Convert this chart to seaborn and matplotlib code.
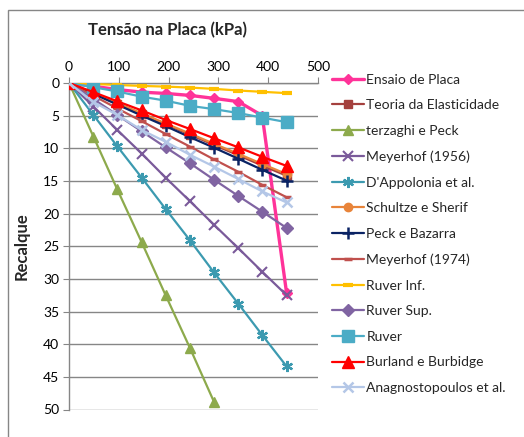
import matplotlib
matplotlib.use("Agg")
import matplotlib.pyplot as plt
from matplotlib.patches import Rectangle
import seaborn as sns

# loads applied on the plate (kPa)
loads = [0, 49, 97, 146, 194, 243, 291, 340, 388, 437]

# settlement (recalque) per method
ensaio_placa = [0, 0.5, 1.0, 1.4, 1.6, 1.9, 2.35, 2.85, 5.0, 32.2]
teoria_elasticidade = [0, 1.58, 3.16, 4.74, 6.32, 7.9, 9.48, 11.06, 12.64, 14.2]
terzaghi_peck = [0, 8.2, 16.3, 24.4, 32.5, 40.6, 48.8]
meyerhof_1956 = [0, 3.6, 7.2, 10.8, 14.5, 18.1, 21.7, 25.3, 28.9, 32.5]
dappolonia = [0, 4.9, 9.7, 14.5, 19.3, 24.1, 29.0, 33.8, 38.6, 43.4]
schultze_sherif = [0, 1.55, 3.1, 4.65, 6.2, 7.75, 9.3, 10.85, 12.4, 13.95]
peck_bazarra = [0, 1.66, 3.3, 5.0, 6.6, 8.3, 9.9, 11.6, 13.3, 14.95]
meyerhof_1974 = [0, 1.95, 3.9, 5.85, 7.8, 9.75, 11.7, 13.6, 15.6, 17.5]
ruver_inf = [0, 0.15, 0.3, 0.45, 0.55, 0.7, 0.9, 1.15, 1.35, 1.55]
ruver_sup = [0, 2.45, 4.9, 7.4, 9.85, 12.3, 14.8, 17.3, 19.7, 22.2]
ruver = [0, 0.65, 1.3, 2.1, 2.7, 3.5, 4.0, 4.6, 5.3, 6.0]
burland_burbidge = [0, 1.4, 2.8, 4.2, 5.65, 7.05, 8.45, 9.85, 11.3, 12.7]
anagnostopoulos = [0, 2.9, 4.9, 7.2, 9.0, 11.0, 12.8, 14.7, 16.6, 18.3]

# (label, values, color, marker, markersize, mew, linewidth)
series = [
    ("Ensaio de Placa", ensaio_placa, "#FF3399", "D", 5, 1, 2.4),
    ("Teoria da Elasticidade", teoria_elasticidade, "#A4403D", "s", 6, 1, 1.6),
    ("terzaghi e Peck", terzaghi_peck, "#8DAA4C", "^", 7, 1, 1.6),
    ("Meyerhof (1956)", meyerhof_1956, "#7A5A9A", "x", 7, 1.5, 1.6),
    ("D'Appolonia et al.", dappolonia, "#3C9AB0", (6, 2, 0), 8, 1.6, 1.6),
    ("Schultze e Sherif", schultze_sherif, "#E8843A", "o", 6, 1, 1.6),
    ("Peck e Bazarra", peck_bazarra, "#0A2364", "+", 8, 1.8, 1.6),
    ("Meyerhof (1974)", meyerhof_1974, "#C0504D", "_", 6, 2.5, 1.6),
    ("Ruver Inf.", ruver_inf, "#FFC000", "_", 7, 3, 1.6),
    ("Ruver Sup.", ruver_sup, "#8064A2", "D", 6, 1, 1.6),
    ("Ruver", ruver, "#4BACC6", "s", 8, 1, 1.6),
    ("Burland e Burbidge", burland_burbidge, "#FF0000", "^", 8, 1, 1.6),
    ("Anagnostopoulos et al.", anagnostopoulos, "#B4C7E7", "x", 7, 1.8, 1.6),
]

sns.set_style("white")
plt.rcParams["font.family"] = ["Lato", "DejaVu Sans"]

fig = plt.figure(figsize=(5.24, 4.37), dpi=100)
ax = fig.add_axes([69 / 524, 1 - 409.5 / 437, 249 / 524, 326.5 / 437])

for i, (name, vals, color, marker, ms, mew, lw) in enumerate(series):
    sns.lineplot(x=loads[:len(vals)], y=vals, ax=ax, color=color, marker=marker,
                 markersize=ms, markeredgecolor=color, markeredgewidth=mew,
                 linewidth=lw, label=name, sort=False, errorbar=None,
                 zorder=3 + i)

ax.set_xlim(0, 500)
ax.set_ylim(50, 0)
ax.set_xticks(range(0, 501, 100))
ax.set_yticks(range(0, 51, 5))
ax.xaxis.tick_top()
ax.set_xlabel("")
ax.set_ylabel("")

grid_col = "#868686"
ax.yaxis.grid(True, color=grid_col, linewidth=1)
ax.xaxis.grid(False)
ax.set_axisbelow(True)
for side in ["right", "bottom"]:
    ax.spines[side].set_visible(False)
for side in ["top", "left"]:
    ax.spines[side].set_color(grid_col)
    ax.spines[side].set_linewidth(1)
ax.tick_params(axis="both", length=4, color=grid_col, labelsize=10,
               labelcolor="black", pad=3)
ax.tick_params(axis="x", top=True, bottom=False)
ax.tick_params(axis="y", left=True)

fig.text(167 / 524, 1 - 30 / 437, "Tensão na Placa (kPa)", fontsize=12,
         fontweight="bold", ha="center", va="center")
fig.text(22 / 524, 1 - 246 / 437, "Recalque", fontsize=12, fontweight="bold",
         rotation=90, ha="center", va="center")

handles, labels = ax.get_legend_handles_labels()
ax.get_legend().remove()
fig.legend(handles, labels, loc="upper left",
           bbox_to_anchor=(326 / 524, 1 - 68 / 437), frameon=False,
           fontsize=10, handlelength=2.3, handletextpad=0.2,
           labelspacing=0.98, borderaxespad=0)

fig.add_artist(Rectangle((8 / 524, -0.1), 1.2, 1 - 10 / 437 + 0.1,
                         transform=fig.transFigure, fill=False,
                         edgecolor=grid_col, linewidth=1))

fig.savefig("out.png", dpi=100)
